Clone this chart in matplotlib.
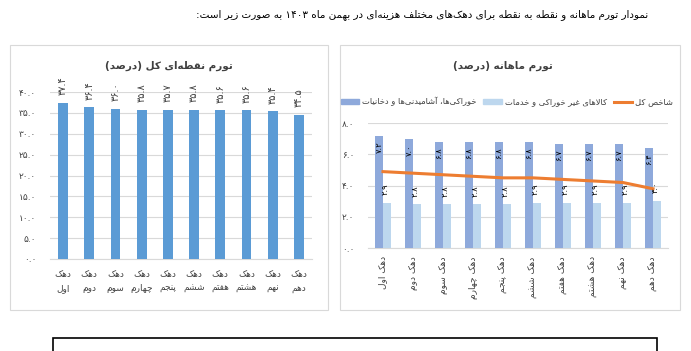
import re
import matplotlib
matplotlib.use("Agg")
import matplotlib.pyplot as plt
from matplotlib.patches import Rectangle
from matplotlib.lines import Line2D
from matplotlib.patches import Patch

plt.rcParams['font.family'] = ['DejaVu Sans']

# ---- data ----
deciles = ["دهک اول", "دهک دوم", "دهک سوم", "دهک چهارم", "دهک پنجم",
           "دهک ششم", "دهک هفتم", "دهک هشتم", "دهک نهم", "دهک دهم"]
point_total = [37.4, 36.4, 36.0, 35.8, 35.7, 35.8, 35.6, 35.6, 35.4, 34.5]
monthly_food = [7.2, 7.0, 6.8, 6.8, 6.8, 6.8, 6.7, 6.7, 6.7, 6.4]
monthly_nonfood = [2.9, 2.8, 2.8, 2.8, 2.8, 2.9, 2.9, 2.9, 2.9, 3.0]
monthly_total = [4.9, 4.8, 4.7, 4.6, 4.5, 4.5, 4.4, 4.3, 4.2, 3.8]
left_ticks = [0, 5, 10, 15, 20, 25, 30, 35, 40]
right_ticks = [0, 2, 4, 6, 8]

page_title = "نمودار تورم ماهانه و نقطه به نقطه برای دهک‌های مختلف هزینه‌ای در بهمن ماه ۱۴۰۳ به صورت زیر است:"
left_title = "تورم نقطه‌ای کل (درصد)"
right_title = "تورم ماهانه (درصد)"
legend_names = ["خوراکی‌ها، آشامیدنی‌ها و دخانیات", "کالاهای غیر خوراکی و خدمات", "شاخص کل"]

# ---- minimal arabic/persian shaping (matplotlib has no text shaper) ----
DUAL = {'ب': 0xFE8F, 'ت': 0xFE95, 'ث': 0xFE99, 'ج': 0xFE9D, 'ح': 0xFEA1, 'خ': 0xFEA5,
        'س': 0xFEB1, 'ش': 0xFEB5, 'ص': 0xFEB9, 'ض': 0xFEBD, 'ط': 0xFEC1, 'ظ': 0xFEC5,
        'ع': 0xFEC9, 'غ': 0xFECD, 'ف': 0xFED1, 'ق': 0xFED5, 'ل': 0xFEDD, 'م': 0xFEE1,
        'ن': 0xFEE5, 'ه': 0xFEE9, 'ئ': 0xFE89, 'پ': 0xFB56, 'چ': 0xFB7A, 'ک': 0xFB8E,
        'گ': 0xFB92, 'ی': 0xFBFC}
RIGHT = {'ا': 0xFE8D, 'آ': 0xFE81, 'د': 0xFEA9, 'ذ': 0xFEAB, 'ر': 0xFEAD, 'ز': 0xFEAF,
         'ژ': 0xFB8A, 'و': 0xFEED}
LAMALEF = {'ا': (0xFEFB, 0xFEFC), 'آ': (0xFEF5, 0xFEF6)}


def shape(s):
    out = []
    i, n = 0, len(s)
    while i < n:
        c = s[i]
        prev = s[i - 1] if i > 0 else ''
        nxt = s[i + 1] if i + 1 < n else ''
        if c not in DUAL and c not in RIGHT:
            if c != '\u200c':
                out.append(c)
            i += 1
            continue
        cp = prev in DUAL
        if c == 'ل' and nxt in LAMALEF:
            out.append(chr(LAMALEF[nxt][1 if cp else 0]))
            i += 2
            continue
        if c in RIGHT:
            out.append(chr(RIGHT[c] + (1 if cp else 0)))
        else:
            cn = nxt in DUAL or nxt in RIGHT
            off = 3 if (cp and cn) else 2 if cn else 1 if cp else 0
            out.append(chr(DUAL[c] + off))
        i += 1
    return ''.join(out)


def fa(s):
    lines = []
    for line in s.split('\n'):
        t = shape(line)[::-1]
        t = re.sub(r'[0-9۰-۹.]+', lambda m: m.group()[::-1], t)
        lines.append(t.translate(str.maketrans('()', ')(')))
    return '\n'.join(lines)


def pdig(v):
    return f"{v:.1f}".translate(str.maketrans('0123456789', '۰۱۲۳۴۵۶۷۸۹'))


W, H = 691, 351
fig = plt.figure(figsize=(W / 100, H / 100), dpi=100)


def box(x0, y0, x1, y1):
    return [x0 / W, 1 - y1 / H, (x1 - x0) / W, (y1 - y0) / H]


grid_c = '#D9D9D9'
fig.text(648 / W, 1 - 15 / H, fa(page_title), ha='right', va='center', fontsize=7.5)

# panel frames
for x0, x1 in [(10, 328), (340, 680)]:
    fig.patches.append(Rectangle((x0 / W, 1 - 310 / H), (x1 - x0) / W, 265 / H,
                                 transform=fig.transFigure, fill=False,
                                 edgecolor=grid_c, lw=0.8))
fig.patches.append(Rectangle((53 / W, 1 - 360 / H), 604 / W, 22 / H,
                             transform=fig.transFigure, fill=False,
                             edgecolor='black', lw=1.2, clip_on=False))

# ---- left chart ----
ax1 = fig.add_axes(box(50, 92, 312, 259))
x = list(range(len(deciles)))
ax1.bar(x, point_total, width=0.37, color='#5B9BD5', zorder=3)
ax1.set_ylim(0, 40)
ax1.set_xlim(-0.5, len(deciles) - 0.5)
ax1.set_yticks(left_ticks)
ax1.set_yticklabels([pdig(v) for v in left_ticks], fontsize=6.5, color='#404040')
ax1.set_xticks(x)
ax1.set_xticklabels([fa(d.replace(' ', '\n')) for d in deciles], fontsize=6.5,
                    color='#404040', linespacing=1.7)
ax1.tick_params(length=0, pad=8)
ax1.tick_params(axis='y', pad=10)
ax1.grid(axis='y', color=grid_c, lw=0.8, zorder=0)
for s in ['top', 'right', 'left']:
    ax1.spines[s].set_visible(False)
ax1.spines['bottom'].set_color(grid_c)
for xi, v in zip(x, point_total):
    ax1.text(xi, v + 1.8, pdig(v), rotation=90, ha='center', va='bottom',
             fontsize=7, color='#404040', clip_on=False)
fig.text(169 / W, 1 - 66 / H, fa(left_title), ha='center', va='center',
         fontsize=7.5, fontweight='bold', color='#404040')

# ---- right chart ----
ax2 = fig.add_axes(box(368, 123.3, 668, 248))
bw = 0.27
xf = [xi - bw / 2 for xi in x]
xn = [xi + bw / 2 for xi in x]
ax2.bar(xf, monthly_food, width=bw, color='#8EA9DB', zorder=3)
ax2.bar(xn, monthly_nonfood, width=bw, color='#BDD7EE', zorder=3)
ax2.plot(x, monthly_total, color='#ED7D31', lw=2.2, zorder=4)
ax2.set_ylim(0, 8)
ax2.set_xlim(-0.5, len(deciles) - 0.5)
ax2.set_yticks(right_ticks)
ax2.set_yticklabels([pdig(v) for v in right_ticks], fontsize=6.5, color='#404040')
ax2.set_xticks(x)
ax2.set_xticklabels([fa(d) for d in deciles], rotation=90, fontsize=6.5,
                    color='#404040')
ax2.tick_params(length=0, pad=6)
ax2.tick_params(axis='y', pad=10)
ax2.grid(axis='y', color=grid_c, lw=0.8, zorder=0)
for s in ['top', 'right', 'left']:
    ax2.spines[s].set_visible(False)
ax2.spines['bottom'].set_color(grid_c)
for xi, v in zip(xf, monthly_food):
    ax2.text(xi, v - 0.35, pdig(v), rotation=90, ha='center', va='top',
             fontsize=6, color='black', zorder=5)
for xi, v in zip(xn, monthly_nonfood):
    ax2.text(xi - 0.05, v + 0.5, pdig(v), rotation=90, ha='center', va='bottom',
             fontsize=6, color='black', zorder=5)
fig.text(503 / W, 1 - 66 / H, fa(right_title), ha='center', va='center',
         fontsize=7.5, fontweight='bold', color='#404040')

handles = [Patch(color='#8EA9DB'), Patch(color='#BDD7EE'),
           Line2D([], [], color='#ED7D31', lw=2.2)]
fig.legend(handles, [fa(n) for n in legend_names], ncol=3, frameon=False,
           loc='center', bbox_to_anchor=(507 / W, 1 - 101.7 / H), fontsize=6,
           handlelength=2.2, handleheight=0.6, columnspacing=0.8, handletextpad=0.4,
           labelcolor='#404040')

fig.savefig('out.png', dpi=100)
